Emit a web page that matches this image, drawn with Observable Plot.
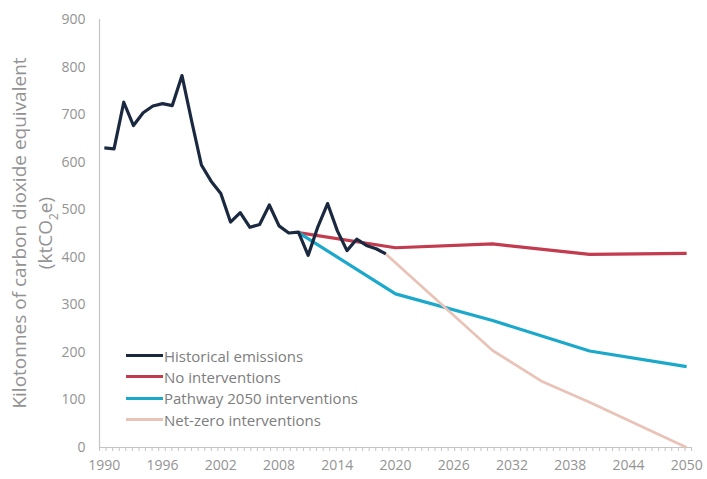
<!DOCTYPE html>
<html><head><meta charset="utf-8">
<script src="https://cdn.jsdelivr.net/npm/d3@7"></script>
<script src="https://cdn.jsdelivr.net/npm/@observablehq/plot@0.6"></script>
<style>
body{margin:0;background:#fff;}
#wrap{position:relative;width:707px;height:479px;font-family:"Open Sans",sans-serif;}
.legend{position:absolute;left:126px;top:345px;font-size:15px;color:#7d7d7d;}
.row{display:flex;align-items:center;height:21.3px;white-space:nowrap;}
.sw{width:37px;height:3px;margin-right:1px;}
</style></head><body><div id="wrap"></div>
<script>
// ---- data ----
const histYears = [1990,1991,1992,1993,1994,1995,1996,1997,1998,1999,2000,2001,2002,2003,2004,2005,2006,2007,2008,2009,2010,2011,2012,2013,2014,2015,2016,2017,2018,2019];
const histValues = [630,628,726,677,704,718,723,719,782,686,594,560,534,474,494,463,469,510,466,451,453,404,464,513,456,414,438,425,418,407];
const noIntYears = [2010,2020,2030,2040,2050];
const noIntValues = [452,420,428,406,408];
const pathwayYears = [2010,2020,2030,2040,2050];
const pathwayValues = [452,323,267,203,170];
const netZeroYears = [2019,2030,2035,2040,2050];
const netZeroValues = [407,204,140,95,0];
const xTickLabels = [1990,1996,2002,2008,2014,2020,2026,2032,2038,2044,2050];
const yTicks = [0,100,200,300,400,500,600,700,800,900];
const seriesNames = ["Historical emissions","No interventions","Pathway 2050 interventions","Net-zero interventions"];
const seriesColors = ["#1b2940","#c23b4e","#1aa8cb","#e9c3b7"];
const yTitle1 = "Kilotonnes of carbon dioxide equivalent";

const toRows = (xs, ys) => xs.map((x,i)=>({x, y: ys[i]}));
const series = [
  toRows(noIntYears, noIntValues),
  toRows(pathwayYears, pathwayValues),
  toRows(netZeroYears, netZeroValues),
  toRows(histYears, histValues)
];
const colorIdx = [1,2,3,0];

const xDomain = [1989.5, 2050.5];
const minorTicks = d3.range(91).map(i => xDomain[0] + i*(xDomain[1]-xDomain[0])/90);
const axisGray = "#c4c4c4";
const textGray = "#939393";

const chart = Plot.plot({
  width: 707, height: 479,
  marginLeft: 99, marginRight: 16, marginTop: 19, marginBottom: 32,
  style: {fontFamily: "'Open Sans', sans-serif", fontSize: "14px", color: textGray, background: "#fff"},
  x: {domain: xDomain},
  y: {domain: [0, 900]},
  marks: [
    Plot.axisX(minorTicks, {tickSize: 4, tickFormat: () => "", stroke: axisGray, label: null}),
    Plot.axisX(xTickLabels, {tickSize: 0, tickPadding: 13, tickFormat: d => String(d), fill: textGray, fontSize: 14, label: null}),
    Plot.axisY(yTicks, {tickSize: 0, tickPadding: 14, fill: textGray, fontSize: 14, label: null}),
    Plot.ruleY([0], {stroke: axisGray, strokeWidth: 1.2}),
    Plot.ruleX([xDomain[0]], {stroke: axisGray, strokeWidth: 1.2}),
    ...series.map((d, k) => Plot.line(d, {x: "x", y: "y", stroke: seriesColors[colorIdx[k]], strokeWidth: k === 2 ? 2.7 : 3.2, strokeLinejoin: "round", strokeLinecap: "butt"}))
  ]
});

const wrap = document.getElementById("wrap");
wrap.appendChild(chart);

// y-axis title (two lines, rotated)
const svg = d3.select(chart);
const cy = 233;
svg.append("text")
  .attr("transform", `translate(19,${cy}) rotate(-90)`)
  .attr("text-anchor", "middle").attr("dominant-baseline", "central")
  .attr("fill", textGray).style("font-size", "19px").style("font-family", "'Open Sans', sans-serif")
  .text(yTitle1);
const t2 = svg.append("text")
  .attr("transform", `translate(45,${cy}) rotate(-90)`)
  .attr("text-anchor", "middle").attr("dominant-baseline", "central")
  .attr("fill", textGray).style("font-size", "19px").style("font-family", "'Open Sans', sans-serif");
t2.append("tspan").text("(ktCO");
t2.append("tspan").attr("baseline-shift", "sub").style("font-size", "12px").text("2");
t2.append("tspan").text("e)");

// legend
const leg = document.createElement("div");
leg.className = "legend";
seriesNames.forEach((n, i) => {
  const r = document.createElement("div"); r.className = "row";
  const s = document.createElement("span"); s.className = "sw"; s.style.background = seriesColors[i];
  const t = document.createElement("span"); t.textContent = n;
  r.appendChild(s); r.appendChild(t); leg.appendChild(r);
});
wrap.appendChild(leg);
</script></body></html>
